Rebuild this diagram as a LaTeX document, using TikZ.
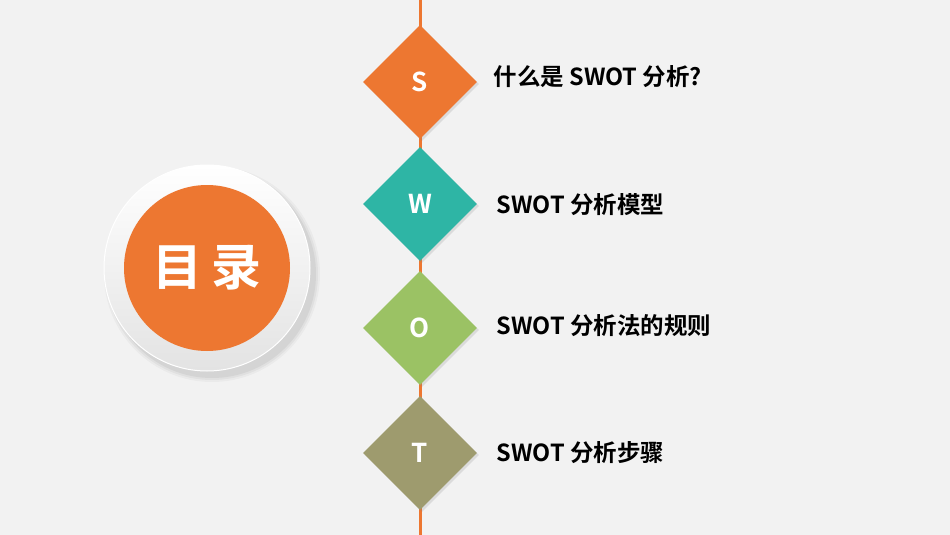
\documentclass[tikz,border=0pt]{standalone}
\usepackage{fontspec}
\setmainfont{Noto Sans CJK SC}[BoldFont={* Bold}]
\usetikzlibrary{shapes.geometric,shadows}
\definecolor{bg}{HTML}{F2F2F2}
\definecolor{org}{HTML}{ED7731}
\definecolor{teal}{HTML}{2EB5A5}
\definecolor{grn}{HTML}{9BC264}
\definecolor{olv}{HTML}{9E9B6E}
\tikzset{x=1pt,y=-1pt,
 dia/.style={diamond,minimum width=114pt,minimum height=114pt,inner sep=0pt,text=white,font=\bfseries\fontsize{26}{26}\selectfont,drop shadow={shadow xshift=2pt,shadow yshift=-2pt,opacity=0.2}},
 lbl/.style={anchor=west,font=\bfseries\fontsize{23.5}{23.5}\selectfont}}
\begin{document}
\begin{tikzpicture}
\fill[bg] (0,0) rectangle (950,535);
\useasboundingbox (0,0) rectangle (950,535);
\coordinate (top) at (420,0);
\coordinate (bot) at (420,535);
\draw[org,line width=3pt] (top) -- (bot);
\foreach \r/\o in {108/0.03,106/0.04,104/0.05}{\fill[black,opacity=\o] (212,274) circle (\r);}
\node[circle,minimum size=206pt,inner sep=0pt,top color=white,bottom color=gray!22!white,draw=white,line width=1pt] (outer) at (207,268) {};
\node[circle,minimum size=166pt,inner sep=0pt,fill=org,text=white,font=\bfseries\fontsize{50}{50}\selectfont] (mulu) at (207,268) {目\,录};
\node[dia,fill=org] (s) at (420,82) {S};
\node[dia,fill=teal] (w) at (420,204) {W};
\node[dia,fill=grn] (o) at (420,328) {O};
\node[dia,fill=olv] (t) at (420,453) {T};
\node[lbl] (ls) at (490,77) {什么是 SWOT 分析?};
\node[lbl] (lw) at (493,205) {SWOT 分析模型};
\node[lbl] (lo) at (493,326) {SWOT 分析法的规则};
\node[lbl] (lt) at (493,453) {SWOT 分析步骤};
\end{tikzpicture}
\end{document}
